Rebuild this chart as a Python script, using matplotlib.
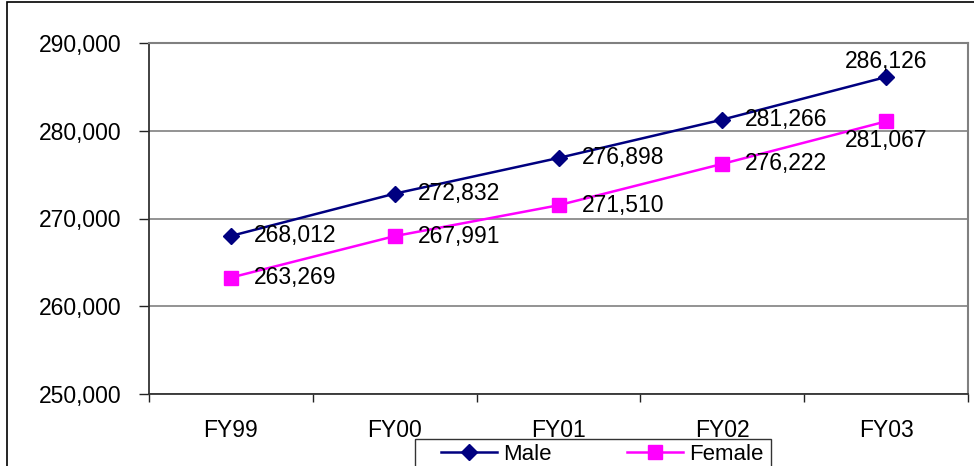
import matplotlib
matplotlib.use('Agg')
import matplotlib.pyplot as plt
from matplotlib.patches import Rectangle
from matplotlib.ticker import FuncFormatter, FixedLocator

plt.rcParams['font.family'] = ['Liberation Sans', 'DejaVu Sans']

years = ['FY99', 'FY00', 'FY01', 'FY02', 'FY03']
male = [268012, 272832, 276898, 281266, 286126]
female = [263269, 267991, 271510, 276222, 281067]

W, H = 974, 466
fig = plt.figure(figsize=(W / 100, H / 100), dpi=100)
ax = fig.add_axes([149 / W, 1 - 394 / H, (968 - 149) / W, (394 - 43) / H])

# outer chart frame (runs off the right and bottom)
fig.patches.append(Rectangle((7 / W, -0.1), 1.2, 1 - 2 / H + 0.1,
                             transform=fig.transFigure, fill=False,
                             edgecolor='black', linewidth=1.2))

x = list(range(len(years)))
ax.plot(x, male, color='#000080', marker='D', markersize=8, linewidth=1.8,
        label='Male', zorder=3)
ax.plot(x, female, color='#FF00FF', marker='s', markersize=10, linewidth=1.8,
        label='Female', zorder=3)

fs = 16.5
for i, v in enumerate(male):
    if i == len(male) - 1:
        ax.annotate(f'{v:,}', (i, v), xytext=(0, 15), textcoords='offset pixels',
                    ha='center', va='center', fontsize=fs)
    else:
        ax.annotate(f'{v:,}', (i, v), xytext=(23, 0), textcoords='offset pixels',
                    ha='left', va='center', fontsize=fs)
for i, v in enumerate(female):
    if i == len(female) - 1:
        ax.annotate(f'{v:,}', (i, v), xytext=(0, -19), textcoords='offset pixels',
                    ha='center', va='center', fontsize=fs)
    else:
        ax.annotate(f'{v:,}', (i, v), xytext=(23, 0), textcoords='offset pixels',
                    ha='left', va='center', fontsize=fs)

ax.set_xlim(-0.5, len(years) - 0.5)
ax.set_ylim(250000, 290000)
ax.set_yticks(range(250000, 290001, 10000))
ax.yaxis.set_major_formatter(FuncFormatter(lambda v, p: f'{int(v):,}'))
ax.yaxis.grid(True, color='#808080', linewidth=1.2)
ax.set_axisbelow(True)

# category labels between boundary ticks
ax.set_xticks(x)
ax.set_xticklabels(years)
ax.tick_params(axis='x', which='major', length=0, pad=18, labelsize=fs)
ax.xaxis.set_minor_locator(FixedLocator([i - 0.5 for i in range(len(years) + 1)]))
ax.tick_params(axis='x', which='minor', length=6, width=1, color='#222222')
ax.tick_params(axis='y', length=7, width=1, color='#222222', labelsize=fs, pad=13)

for s in ['top', 'right']:
    ax.spines[s].set_color('#808080')
    ax.spines[s].set_linewidth(1.5)
for s in ['left', 'bottom']:
    ax.spines[s].set_color('#333333')
    ax.spines[s].set_linewidth(1.3)

# legend box, with the entries placed inside it without their own frame
fig.patches.append(Rectangle((415 / W, -0.1), 356 / W, 0.1 + 1 - 439 / H,
                             transform=fig.transFigure, fill=False,
                             edgecolor='#333333', linewidth=1.0))
leg = fig.legend(loc='upper left', bbox_to_anchor=(441 / W, 1 - 444 / H),
                 ncol=2, fontsize=16, frameon=False,
                 borderpad=0.0, handlelength=2.5,
                 columnspacing=3.4, handletextpad=0.3, borderaxespad=0)

fig.savefig('out.png', dpi=100)
